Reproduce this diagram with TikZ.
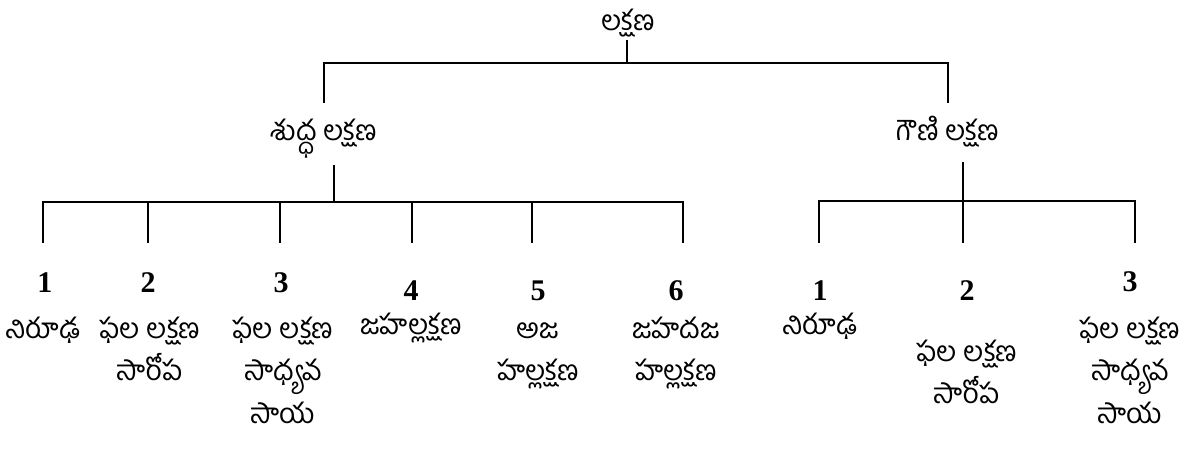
\documentclass[tikz,border=0pt]{standalone}
\usepackage{fontspec}
\newfontfamily\te[Script=Telugu]{Hind Guntur}
\newfontfamily\numf{Liberation Serif}
\newcommand\tlines[1]{\begin{tabular}[t]{@{}c@{}}#1\end{tabular}}
\begin{document}
\begin{tikzpicture}[x=1pt,y=-1pt,
  conn/.style={line width=2.6pt},
  lbl/.style={font=\te\fontsize{28}{42}\selectfont, inner sep=0pt, anchor=base},
  num/.style={font=\numf\bfseries\fontsize{30}{34}\selectfont, inner sep=0pt}]
\useasboundingbox[fill=white] (0,0) rectangle (1187,452);
% labels
\node[lbl] (root) at (628,31) {లక్షణ};
\node[lbl] (sh) at (324,140) {శుద్ధ లక్షణ};
\node[lbl] (ga) at (948,140) {గౌణి లక్షణ};
% numbers
\node[num] (n1) at (45,283) {1};
\node[num] (n2) at (148,283) {2};
\node[num] (n3) at (281,283) {3};
\node[num] (n4) at (411,291) {4};
\node[num] (n5) at (538,291) {5};
\node[num] (n6) at (676,291) {6};
\node[num] (m1) at (820,291) {1};
\node[num] (m2) at (967,291) {2};
\node[num] (m3) at (1130,282) {3};
% leaf texts
\node[lbl] (t1) at (43,338) {\tlines{నిరూఢ}};
\node[lbl] (t2) at (150,338) {\tlines{ఫల లక్షణ\\సారోప}};
\node[lbl] (t3) at (283,338) {\tlines{ఫల లక్షణ\\సాధ్యవ\\సాయ}};
\node[lbl] (t4) at (411,334) {\tlines{జహల్లక్షణ}};
\node[lbl] (t5) at (538,338) {\tlines{అజ\\హల్లక్షణ}};
\node[lbl] (t6) at (676,338) {\tlines{జహదజ\\హల్లక్షణ}};
\node[lbl] (u1) at (820,334) {\tlines{నిరూఢ}};
\node[lbl] (u2) at (967,361) {\tlines{ఫల లక్షణ\\సారోప}};
\node[lbl] (u3) at (1130,338) {\tlines{ఫల లక్షణ\\సాధ్యవ\\సాయ}};
% junction coordinates
\coordinate (r0) at (627,40);
\coordinate (r1) at (627,63);
\coordinate (rl) at (324,63);
\coordinate (rr) at (948,63);
\coordinate (rld) at (324,103);
\coordinate (rrd) at (948,103);
\coordinate (s0) at (334,165);
\coordinate (s1) at (334,202);
\coordinate (sa) at (43,202);  \coordinate (sad) at (43,243);
\coordinate (sb) at (148,202); \coordinate (sbd) at (148,243);
\coordinate (sc) at (280,202); \coordinate (scd) at (280,243);
\coordinate (sd) at (412,202); \coordinate (sdd) at (412,243);
\coordinate (se) at (532,202); \coordinate (sed) at (532,243);
\coordinate (sf) at (683,202); \coordinate (sfd) at (683,243);
\coordinate (g0) at (963,162);
\coordinate (g1) at (963,201);
\coordinate (ga1) at (819,201); \coordinate (gad) at (819,243);
\coordinate (gb1) at (963,243);
\coordinate (gc1) at (1135,201); \coordinate (gcd) at (1135,243);
% connectors
\draw[conn] (r0) -- (r1);
\draw[conn] (rld) -- (rl) -- (rr) -- (rrd);
\draw[conn] (s0) -- (s1);
\draw[conn] (sad) -- (sa) -- (sf) -- (sfd);
\draw[conn] (sb) -- (sbd);
\draw[conn] (sc) -- (scd);
\draw[conn] (sd) -- (sdd);
\draw[conn] (se) -- (sed);
\draw[conn] (g0) -- (gb1);
\draw[conn] (gad) -- (ga1) -- (gc1) -- (gcd);
\end{tikzpicture}
\end{document}
